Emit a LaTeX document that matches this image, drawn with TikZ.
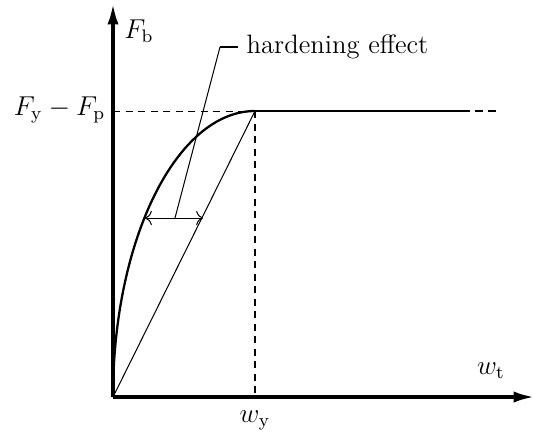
\documentclass[tikz,border=0pt]{standalone}
\usepackage{amsmath}
\usetikzlibrary{arrows.meta,positioning,calc}

\begin{document}
\begin{tikzpicture}[x=0.44pt,y=-0.44pt,
  ax/.style={-{Latex[length=9pt,width=5pt]},line width=1.4pt},
  crv/.style={line width=1pt},
  thn/.style={line width=0.45pt},
  dsh/.style={thn,dash pattern=on 3.1pt off 2.4pt},
  lbl/.style={inner sep=1pt,font=\fontsize{11.7}{14}\selectfont}
]
\useasboundingbox (0,0) rectangle (534,435);
% axes
\coordinate (O) at (113,397);
\coordinate (P) at (255,111);
\draw[ax] (O) -- (113,4) coordinate (ytip);
\draw[ax] (O) -- (534,397) coordinate (xtip);
\node[lbl] (Fb) at (139,31) {$F_\mathrm{b}$};
\node[lbl] (wt) at (491,371) {$w_\mathrm{t}$};
\node[lbl] (wy) at (255,420) {$w_\mathrm{y}$};
\node[lbl,anchor=east] (Fy) at (108,110) {$F_\mathrm{y}-F_\mathrm{p}$};

% reference lines
\draw[dsh] (113,111) -- (P);
\draw[dsh] (P) -- (255,397);
\draw[thn] (O) -- (P);

% response curve
\draw[crv] (O) .. controls (113,239) and (177,111) .. (P);
\draw[crv] (P) -- (470,111) coordinate (Pend);
\draw[crv,dash pattern=on 3.3pt off 2.4pt,dash phase=-2.4pt] (Pend) -- (501,111);

% hardening effect
\coordinate (hl) at (145,218);
\coordinate (hr) at (203,218);
\draw[thn,{To[length=3pt]}-{To[length=3pt]}] (hl) -- (hr);
\coordinate (hm) at (175,218);
\node[lbl,anchor=west] (he) at (244,47) {hardening effect};
\draw[thn] (hm) -- (220,47);
\draw[line width=0.8pt] (220,47) -- (238,47);
\end{tikzpicture}
\end{document}
